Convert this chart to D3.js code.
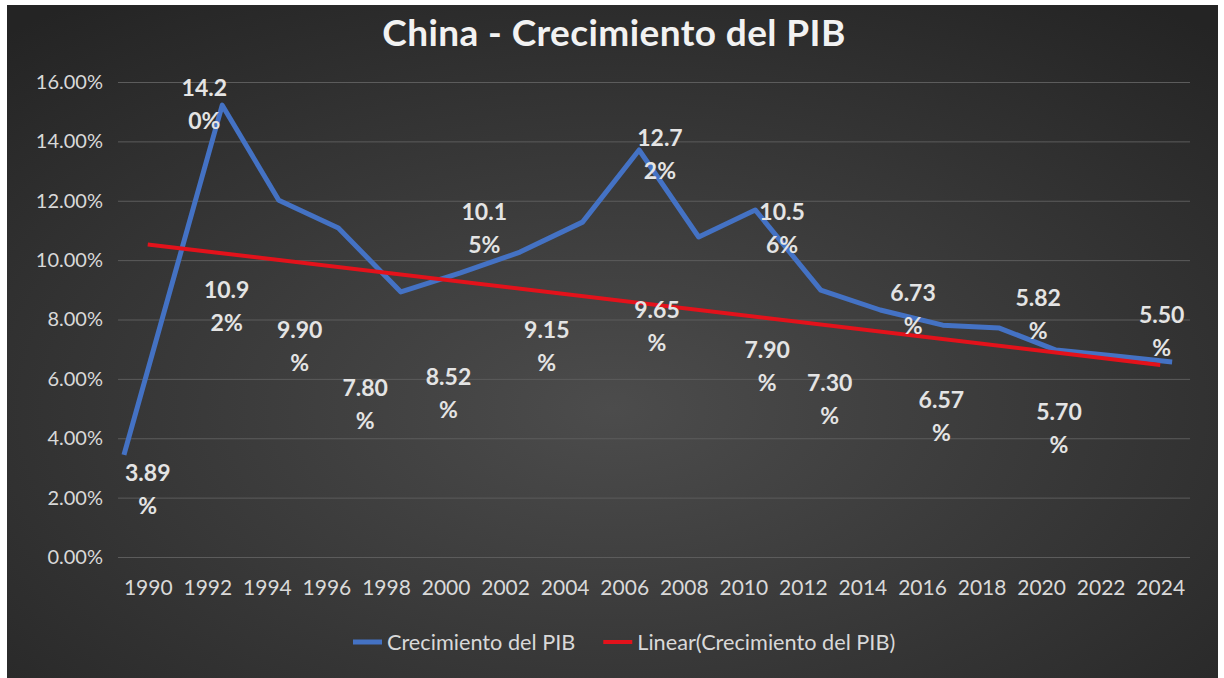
<!DOCTYPE html>
<html>
<head>
<meta charset="utf-8">
<script src="https://cdn.jsdelivr.net/npm/d3@7"></script>
<style>
  body { margin: 0; background: #fff; }
  text { font-family: Lato, "Open Sans", sans-serif; }
</style>
</head>
<body>
<div id="chart"></div>
<script>
// categories and the labelled values (%)
var years = [1990, 1992, 1994, 1996, 1998, 2000, 2002, 2004, 2006, 2008, 2010, 2012, 2014, 2016, 2018, 2020, 2022, 2024];
var growth = [3.89, 14.20, 10.92, 9.90, 7.80, 8.52, 10.15, 9.15, 12.72, 9.65, 10.56, 7.90, 7.30, 6.73, 6.57, 5.82, 5.70, 5.50];

// blue line as drawn in the picture (year position, %)
var lineYears = [1989.2, 1992.5, 1994.4, 1996.4, 1998.5, 2000.5, 2002.5, 2004.6, 2006.5, 2008.5, 2010.4, 2012.6, 2014.6, 2016.7, 2018.6, 2020.5, 2022.5, 2024.4];
var lineValues = [3.44, 15.22, 12.02, 11.08, 8.93, 9.57, 10.27, 11.28, 13.71, 10.78, 11.69, 8.99, 8.32, 7.81, 7.71, 6.97, 6.77, 6.57];

// where each data label sits (year position, %)
var labelYears = [1990.0, 1991.9, 1992.65, 1995.1, 1997.3, 2000.1, 2001.3, 2003.4, 2007.2, 2007.1, 2011.3, 2010.8, 2012.9, 2015.7, 2016.65, 2019.9, 2020.6, 2024.05];
var labelValues = [2.83, 15.80, 8.99, 7.64, 5.68, 6.05, 11.62, 7.64, 14.11, 8.32, 11.62, 6.97, 5.86, 8.89, 5.29, 8.72, 4.88, 8.15];

var yTicks = [0, 2, 4, 6, 8, 10, 12, 14, 16];

var W = 1224, H = 678,
    m = [82, 34, 121, 118]; // top right bottom left

var svg = d3.select("#chart").append("svg")
    .attr("width", W)
    .attr("height", H);

var defs = svg.append("defs");
var grad = defs.append("radialGradient")
    .attr("id", "bg")
    .attr("cx", "50%").attr("cy", "60%").attr("r", "75%");
grad.append("stop").attr("offset", "0%").attr("stop-color", "#4c4c4c");
grad.append("stop").attr("offset", "100%").attr("stop-color", "#242424");

svg.append("rect")
    .attr("x", 7).attr("y", 5)
    .attr("width", 1211).attr("height", 673)
    .attr("fill", "url(#bg)");

var x = d3.scaleLinear()
    .domain([1989, 2025])
    .range([m[3], W - m[1]]);

var y = d3.scaleLinear()
    .domain([0, 16])
    .range([H - m[2], m[0]]);

// y axis + gridlines
var yAxis = svg.append("g")
    .attr("transform", "translate(" + m[3] + ",0)")
    .call(d3.axisLeft(y)
      .tickValues(yTicks)
      .tickSize(-(W - m[1] - m[3]))
      .tickPadding(15)
      .tickFormat(function(d) { return d.toFixed(2) + "%"; }));
yAxis.select(".domain").remove();
yAxis.selectAll("line").attr("stroke", "#5c5c5c").attr("stroke-width", 1);
yAxis.selectAll("text")
    .attr("fill", "#d9d9d9")
    .style("font-size", "20px");

// x axis
var xAxis = svg.append("g")
    .attr("transform", "translate(0," + (H - m[2]) + ")")
    .call(d3.axisBottom(x)
      .tickValues(years)
      .tickSize(0)
      .tickPadding(23)
      .tickFormat(d3.format("d")));
xAxis.select(".domain").remove();
xAxis.selectAll("text")
    .attr("fill", "#d9d9d9")
    .style("font-size", "21px");

// blue series
var line = d3.line()
    .x(function(d) { return x(d[0]); })
    .y(function(d) { return y(d[1]); });

svg.append("path")
    .datum(d3.zip(lineYears, lineValues))
    .attr("fill", "none")
    .attr("stroke", "#4472c4")
    .attr("stroke-width", 5)
    .attr("stroke-linejoin", "round")
    .attr("d", line);

// linear trendline of the labelled values
var n = growth.length,
    mx = (n - 1) / 2,
    my = d3.mean(growth),
    sxy = d3.sum(growth, function(v, i) { return (i - mx) * (v - my); }),
    sxx = d3.sum(growth, function(v, i) { return (i - mx) * (i - mx); }),
    slope = sxy / sxx,
    icpt = my - slope * mx;

svg.append("path")
    .datum([[years[0], icpt], [years[n - 1], icpt + slope * (n - 1)]])
    .attr("fill", "none")
    .attr("stroke", "#e3121b")
    .attr("stroke-width", 4)
    .attr("d", line);

// data labels, wrapped like Excel does
var labels = svg.append("g")
    .attr("text-anchor", "middle")
    .attr("fill", "#e4e4e4")
    .style("font-size", "23px")
    .style("font-weight", "bold");

growth.forEach(function(v, i) {
  var s = v.toFixed(2) + "%";
  var t = labels.append("text")
      .attr("x", x(labelYears[i]))
      .attr("y", y(labelValues[i]) + 8);
  t.append("tspan").attr("x", x(labelYears[i])).text(s.slice(0, 4));
  t.append("tspan").attr("x", x(labelYears[i])).attr("dy", 33).text(s.slice(4));
});

// title
svg.append("text")
    .attr("x", 614)
    .attr("y", 46)
    .attr("text-anchor", "middle")
    .attr("fill", "#f2f2f2")
    .style("font-size", "37px")
    .style("letter-spacing", "0.4px")
    .style("font-weight", "bold")
    .text("China - Crecimiento del PIB");

// legend
var legend = svg.append("g").attr("transform", "translate(353,642)");
var items = [
  { name: "Crecimiento del PIB", color: "#4472c4", w: 5 },
  { name: "Linear(Crecimiento del PIB)", color: "#e3121b", w: 4 }
];
var lx = 0;
items.forEach(function(d) {
  legend.append("line")
      .attr("x1", lx).attr("x2", lx + 29)
      .attr("stroke", d.color)
      .attr("stroke-width", d.w);
  var t = legend.append("text")
      .attr("x", lx + 34)
      .attr("dy", "0.35em")
      .attr("fill", "#d9d9d9")
      .style("font-size", "21.7px")
      .text(d.name);
  lx += 34 + t.node().getComputedTextLength() + 28;
});
</script>
</body>
</html>
